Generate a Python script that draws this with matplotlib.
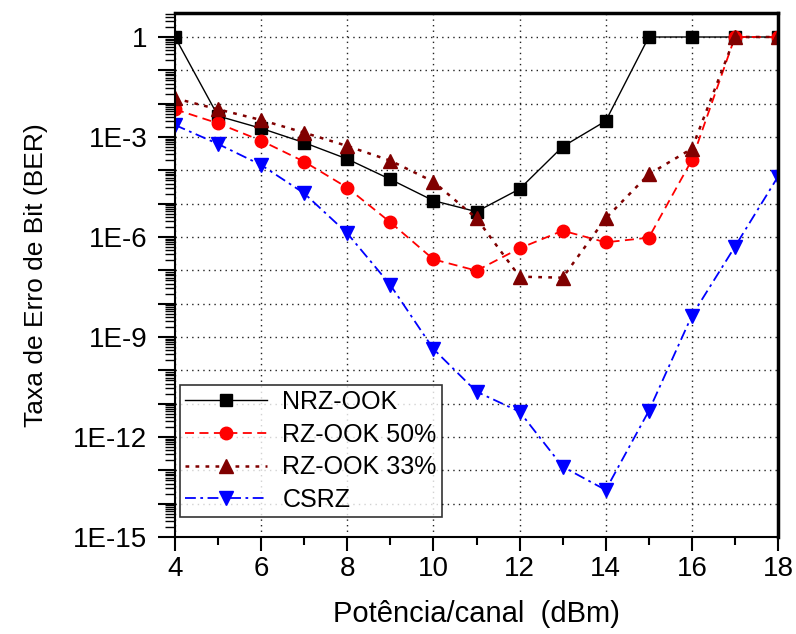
import matplotlib
matplotlib.use("Agg")
import matplotlib.pyplot as plt
import matplotlib.ticker as mticker
import numpy as np

plt.rcParams['font.family'] = ['Liberation Sans', 'DejaVu Sans']

# potencia por canal (dBm)
potencia = [4, 5, 6, 7, 8, 9, 10, 11, 12, 13, 14, 15, 16, 17, 18]

# log10(BER)
nrz_ook = [0, -2.37, -2.74, -3.17, -3.66, -4.27, -4.91, -5.24, -4.56, -3.29, -2.52, 0, 0, 0, 0]
rz_ook_50 = [-2.17, -2.59, -3.11, -3.74, -4.52, -5.56, -6.67, -7.01, -6.34, -5.81, -6.16, -6.02, -3.69, 0, 0]
rz_ook_33 = [-1.84, -2.17, -2.49, -2.87, -3.27, -3.71, -4.34, -5.44, -7.19, -7.22, -5.44, -4.12, -3.35, 0, 0]
csrz = [-2.64, -3.21, -3.84, -4.69, -5.89, -7.44, -9.36, -10.64, -11.24, -12.89, -13.59, -11.22, -8.36, -6.29, -4.19]

series = [
    ("NRZ-OOK", nrz_ook, "black", "-", "s", 1.0, 8),
    ("RZ-OOK 50%", rz_ook_50, "#ff0000", (0, (5, 3)), "o", 1.3, 9),
    ("RZ-OOK 33%", rz_ook_33, "#800000", (0, (1.5, 2.5)), "^", 1.8, 10),
    ("CSRZ", csrz, "#0000ff", (0, (6, 2.5, 1.5, 2.5)), "v", 1.3, 10),
]

fig = plt.figure(figsize=(7.96, 6.34), dpi=100)
ax = fig.add_axes([175 / 796, 1 - 537 / 634, (778 - 175) / 796, (537 - 13) / 634])

for name, vals, cor, ls, mk, lw, ms in series:
    ax.plot(potencia, 10.0 ** np.array(vals), color=cor, linestyle=ls, linewidth=lw,
            marker=mk, markersize=ms, markeredgecolor=cor, label=name)

ax.set_yscale('log')
ax.set_xlim(4, 18)
ax.set_ylim(1e-15, 10 ** 0.72)

ax.xaxis.set_major_locator(mticker.MultipleLocator(2))
ax.xaxis.set_minor_locator(mticker.MultipleLocator(1))

ax.yaxis.set_major_locator(mticker.FixedLocator([10.0 ** -k for k in range(0, 16)]))
ax.yaxis.set_minor_locator(mticker.LogLocator(base=10, subs=np.arange(2, 10), numticks=40))


def fmt(v, pos):
    k = int(round(-np.log10(v)))
    if k % 3 != 0:
        return ""
    return "1" if k == 0 else "1E-%d" % k


ax.yaxis.set_major_formatter(mticker.FuncFormatter(fmt))
ax.yaxis.set_minor_formatter(mticker.NullFormatter())

ax.tick_params(axis='x', which='major', direction='out', length=10, width=1.5, labelsize=20, pad=4)
ax.tick_params(axis='x', which='minor', direction='out', length=6, width=1.5)
ax.tick_params(axis='y', which='major', direction='out', length=12, width=1.5, labelsize=20, pad=8)
ax.tick_params(axis='y', which='minor', direction='out', length=7, width=1)

ax.grid(True, which='major', color='#222222', linestyle=(0, (1, 3)), linewidth=1)

for s in ax.spines.values():
    s.set_linewidth(1.5)
ax.spines['top'].set_linewidth(2.5)
ax.spines['right'].set_linewidth(2.5)

ax.set_xlabel("Potência/canal  (dBm)", fontsize=21, labelpad=13)
ax.set_ylabel("Taxa de Erro de Bit (BER)", fontsize=19, labelpad=18)

leg = ax.legend(loc='lower left', fontsize=18, frameon=True, fancybox=False,
                edgecolor='black', borderpad=0.2, handlelength=3.3, handletextpad=0.6,
                labelspacing=0.35, borderaxespad=0, bbox_to_anchor=(0.008, 0.038))
leg.get_frame().set_linewidth(1.2)

fig.savefig("out.png", dpi=100)
